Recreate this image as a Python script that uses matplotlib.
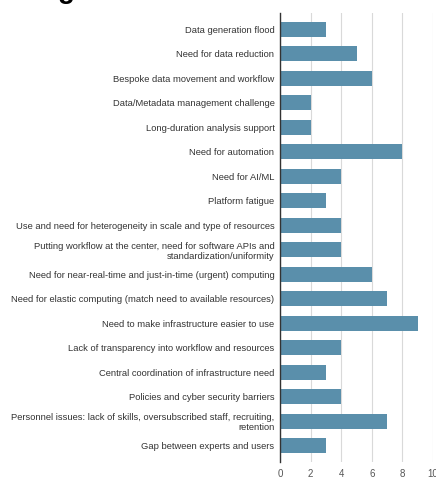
import matplotlib
matplotlib.use("Agg")
import matplotlib.pyplot as plt

categories = [
    "Data generation flood",
    "Need for data reduction",
    "Bespoke data movement and workflow",
    "Data/Metadata management challenge",
    "Long-duration analysis support",
    "Need for automation",
    "Need for AI/ML",
    "Platform fatigue",
    "Use and need for heterogeneity in scale and type of resources",
    "Putting workflow at the center, need for software APIs and\nstandardization/uniformity",
    "Need for near-real-time and just-in-time (urgent) computing",
    "Need for elastic computing (match need to available resources)",
    "Need to make infrastructure easier to use",
    "Lack of transparency into workflow and resources",
    "Central coordination of infrastructure need",
    "Policies and cyber security barriers",
    "Personnel issues: lack of skills, oversubscribed staff, recruiting,\nretention",
    "Gap between experts and users",
]
values = [3, 5, 6, 2, 2, 8, 4, 3, 4, 4, 6, 7, 9, 4, 3, 4, 7, 3]
xticks = [0, 2, 4, 6, 8, 10]

plt.rcParams['font.family'] = ['Liberation Sans', 'DejaVu Sans']

W, H = 436, 478
fig = plt.figure(figsize=(W / 100, H / 100), dpi=100)
ax = fig.add_axes([280 / W, 1 - 462 / H, (433 - 280) / W, (462 - 13) / H])

ypos = list(range(len(categories)))
ax.barh(ypos, values, height=0.61, color="#5a8fab", zorder=3)
pad = 0.16
ax.set_ylim(len(categories) - 0.5 + pad, -0.5 - pad)
ax.set_xlim(0, 10)
ax.set_yticks(ypos)
ax.set_yticklabels(categories, fontsize=6.75, color="#333333", linespacing=1.15)
ax.set_xticks(xticks)
ax.set_xticklabels([str(t) for t in xticks], fontsize=7.0, color="#555555")
ax.tick_params(axis="y", length=0, pad=4)
ax.tick_params(axis="x", length=0, pad=5)
ax.grid(axis="x", color="#d9d9d9", linewidth=0.8, zorder=0)
for s in ["top", "right", "bottom"]:
    ax.spines[s].set_visible(False)
ax.spines["left"].set_color("#333333")
ax.spines["left"].set_linewidth(1.0)
ax.spines["left"].set_zorder(4)

fig.text(66 / W, 1.0 + 2 / H, "g", fontsize=20, fontweight="bold", ha="center", va="baseline")

fig.savefig("out.png", dpi=100)
